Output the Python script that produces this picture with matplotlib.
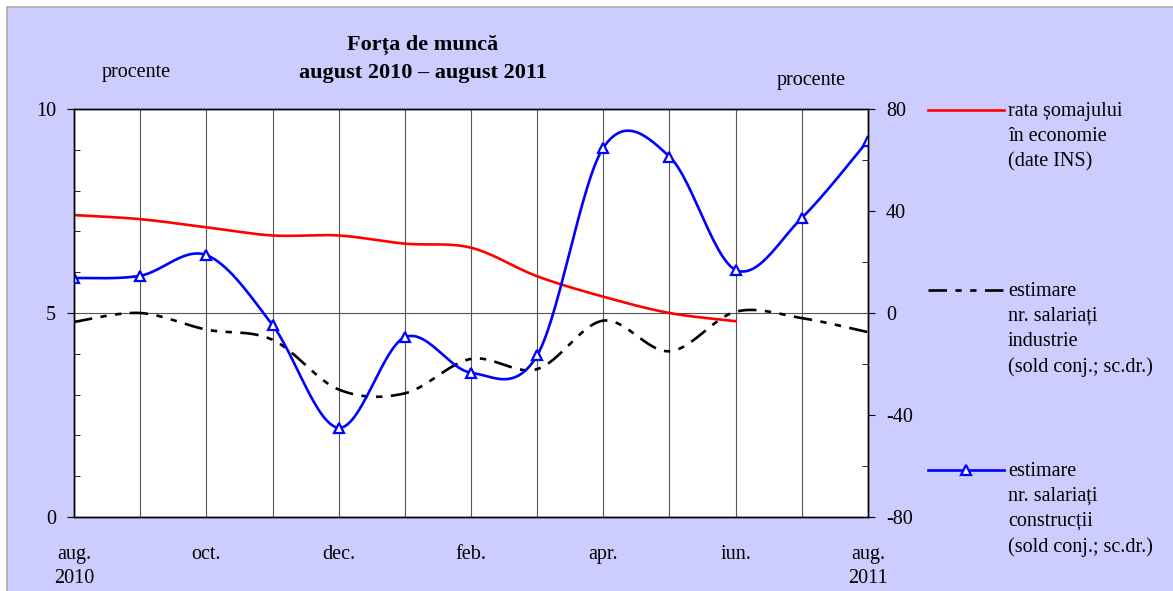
import numpy as np
import matplotlib.pyplot as plt
from matplotlib.lines import Line2D
from matplotlib.patches import Rectangle

plt.rcParams['font.family'] = ['Liberation Serif', 'DejaVu Serif']
plt.rcParams['axes.unicode_minus'] = False

# luni: aug. 2010 - aug. 2011
tick_labels = ['aug.\n2010', '', 'oct.', '', 'dec.', '', 'feb.', '', 'apr.', '', 'iun.', '', 'aug.\n2011']
somaj = [7.4, 7.3, 7.1, 6.9, 6.9, 6.7, 6.6, 5.9, 5.4, 5.0, 4.8]
industrie = [-3.5, 0, -6.5, -10.5, -30, -31.5, -18, -22, -3, -15, 0.5, -2, -7.5]
constructii = [13.7, 14.6, 22.7, -4.7, -45, -9.5, -23.4, -16.6, 64.8, 61.3, 16.9, 37.3, 67.6]


def smooth(y, n=30):
    # bezier smoothing like excel "smoothed line"
    pts = np.column_stack([np.arange(len(y)), y]).astype(float)
    P = np.vstack([pts[0], pts, pts[-1]])
    out = []
    t = np.linspace(0, 1, n)[:, None]
    for i in range(1, len(P) - 2):
        p0, p1, p2, p3 = P[i - 1], P[i], P[i + 1], P[i + 2]
        c1 = p1 + (p2 - p0) / 6
        c2 = p2 - (p3 - p1) / 6
        seg = (1 - t)**3 * p1 + 3 * (1 - t)**2 * t * c1 + 3 * (1 - t) * t**2 * c2 + t**3 * p2
        out.append(seg if i == 1 else seg[1:])
    s = np.vstack(out)
    return s[:, 0], s[:, 1]


W, H = 1173, 591
fig = plt.figure(figsize=(11.73, 5.91), dpi=100, facecolor='white')
fig.add_artist(Rectangle((7 / W, -0.01), 1.0, (H - 7) / H + 0.01, transform=fig.transFigure,
                         facecolor='#CCCCFF', edgecolor='#A8A8A8', lw=1.2, zorder=-10))

ax = fig.add_axes([74 / W, 1 - 517 / H, (868 - 74) / W, (517 - 109) / H])
ax.set_facecolor('white')
ax2 = ax.twinx()

xs, ys = smooth(somaj)
ax.plot(xs, ys, color='red', lw=1.9)

ls_dd = (0, (7, 3.2, 2.4, 3.2, 2.4, 3.2))
xs, ys = smooth(industrie)
ax2.plot(xs, ys, color='black', lw=1.9, linestyle=ls_dd)

xs, ys = smooth(constructii)
ax2.plot(xs, ys, color='#0000FF', lw=1.9)
ax2.plot(np.arange(len(constructii)), constructii, linestyle='none', marker='^',
         ms=7, mfc='white', mec='#0000FF', mew=1.6)

ax.set_xlim(0, 12)
ax.set_xticks(range(13))
ax.set_xticklabels(tick_labels, fontsize=14.5, linespacing=1.4)
ax.tick_params(axis='x', length=0, pad=20)
ax.grid(axis='x', color='#555555', lw=0.8)

ax.set_ylim(0, 10)
ax.set_yticks([0, 5, 10])
ax.set_yticks(range(11), minor=True)
ax.tick_params(axis='y', which='major', direction='out', length=5, pad=8, labelsize=14.5)
ax.tick_params(axis='y', which='minor', direction='in', length=4)
ax.grid(axis='y', which='major', color='#555555', lw=0.8)

ax2.set_ylim(-80, 80)
ax2.set_yticks([-80, -40, 0, 40, 80])
ax2.set_yticks(range(-80, 81, 20), minor=True)
ax2.tick_params(axis='y', which='major', direction='out', length=5, pad=8, labelsize=14.5)
ax2.tick_params(axis='y', which='minor', direction='in', length=4)

for a in (ax, ax2):
    for s in a.spines.values():
        s.set_color('black')
        s.set_linewidth(1.0)

# titlu si unitati
fig.text(423 / W, 1 - 45 / H, 'Forța de muncă', ha='center', va='center',
         fontsize=16, fontweight='bold')
fig.text(423 / W, 1 - 73 / H, 'august 2010 – august 2011', ha='center', va='center',
         fontsize=16, fontweight='bold')
fig.text(136 / W, 1 - 72 / H, 'procente', ha='center', va='center', fontsize=14.5)
fig.text(811 / W, 1 - 80 / H, 'procente', ha='center', va='center', fontsize=14.5)

# legenda
legend_items = [
    (110, dict(color='red', lw=1.9), None, 'rata șomajului\nîn economie\n(date INS)'),
    (290, dict(color='black', lw=1.9, linestyle=ls_dd), None,
     'estimare\nnr. salariați\nindustrie\n(sold conj.; sc.dr.)'),
    (470, dict(color='#0000FF', lw=1.9), '^',
     'estimare\nnr. salariați\nconstrucții\n(sold conj.; sc.dr.)'),
]
for ypx, style, mk, label in legend_items:
    fig.add_artist(Line2D([928 / W, 1004 / W], [1 - ypx / H] * 2, **style))
    if mk:
        fig.add_artist(Line2D([966 / W], [1 - ypx / H], marker=mk, ms=7, mfc='white',
                              mec='#0000FF', mew=1.6))
    fig.text(1008 / W, 1 - (ypx - 8) / H, label, ha='left', va='top',
             fontsize=14.5, linespacing=1.42)

fig.savefig('out.png', dpi=100)
